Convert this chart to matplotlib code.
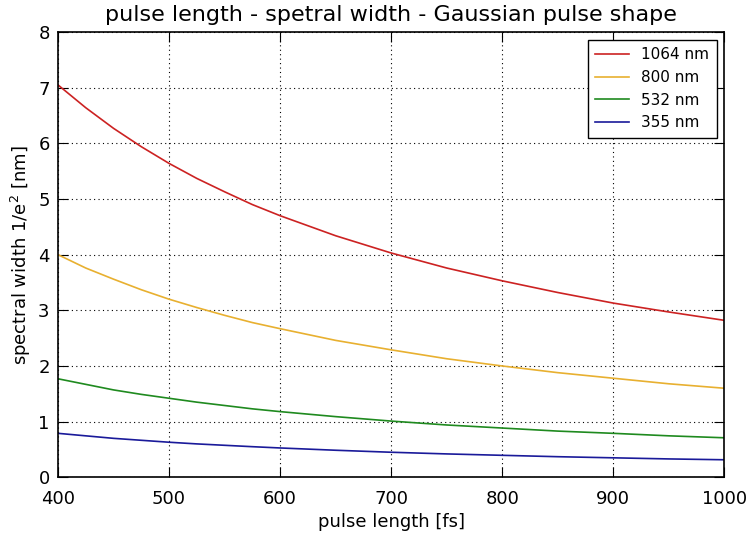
import matplotlib
matplotlib.use('Agg')
import matplotlib.pyplot as plt

# pulse length [fs]
pulse_fs = [400, 425, 450, 475, 500, 525, 550, 575, 600, 650, 700, 750, 800, 850, 900, 950, 1000]

# spectral width 1/e^2 [nm]
w_1064 = [7.05, 6.64, 6.27, 5.94, 5.64, 5.37, 5.13, 4.90, 4.70, 4.34, 4.03, 3.76, 3.53, 3.32, 3.13, 2.97, 2.82]
w_800 = [4.00, 3.76, 3.56, 3.37, 3.20, 3.05, 2.91, 2.78, 2.67, 2.46, 2.29, 2.13, 2.00, 1.88, 1.78, 1.68, 1.60]
w_532 = [1.77, 1.67, 1.57, 1.49, 1.42, 1.35, 1.29, 1.23, 1.18, 1.09, 1.01, 0.94, 0.885, 0.83, 0.79, 0.745, 0.71]
w_355 = [0.79, 0.745, 0.70, 0.665, 0.63, 0.60, 0.575, 0.55, 0.527, 0.486, 0.45, 0.42, 0.395, 0.37, 0.35, 0.33, 0.315]

labels = ['1064 nm', '800 nm', '532 nm', '355 nm']
colors = ['#cc2222', '#e8b030', '#1f8a1f', '#1a1a9a']

fig = plt.figure(figsize=(7.53, 5.43), dpi=100)
ax = fig.add_axes([0.077, 0.121, 0.885, 0.820])

for w, lab, c in zip([w_1064, w_800, w_532, w_355], labels, colors):
    ax.plot(pulse_fs, w, color=c, linewidth=1.2, label=lab)

ax.set_xlim(400, 1000)
ax.set_ylim(0, 8)
ax.set_xticks(range(400, 1001, 100))
ax.set_yticks(range(0, 9))
ax.tick_params(direction='in', length=7, labelsize=13, pad=6, top=True, right=True)
ax.tick_params(axis='x', pad=9)
ax.grid(True, color='black', linestyle=(0, (1, 3)), linewidth=0.8)
for s in ax.spines.values():
    s.set_linewidth(1.2)

ax.set_xlabel('pulse length [fs]', fontsize=13)
ax.set_ylabel('spectral width 1/e$^2$ [nm]', fontsize=13)
ax.set_title('pulse length - spetral width - Gaussian pulse shape', fontsize=16, pad=8)

leg = ax.legend(loc='upper right', fontsize=11, fancybox=False, framealpha=1,
                edgecolor='black', handlelength=2.2, borderpad=0.5, labelspacing=0.5)
leg.get_frame().set_linewidth(1.0)

fig.savefig('out.png', dpi=100)
